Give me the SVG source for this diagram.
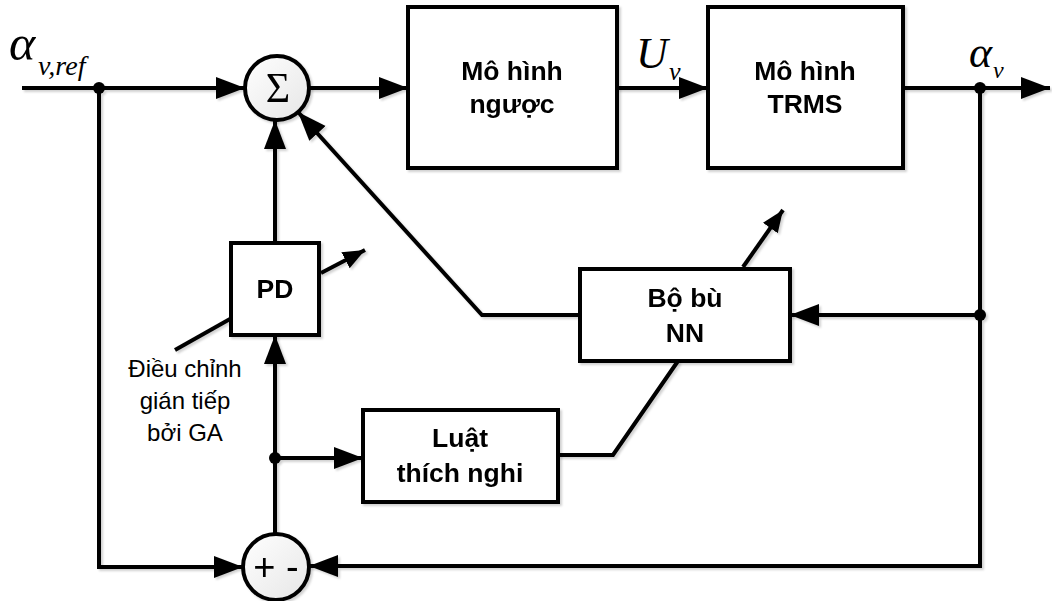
<svg xmlns="http://www.w3.org/2000/svg" width="1052" height="601" viewBox="0 0 1052 601">
  <style>
    .blk { fill: #ffffff; stroke: #000; stroke-width: 4; }
    .sum { fill: url(#sumFill); stroke: #000; stroke-width: 4; }
    .wire { fill: none; stroke: #000; stroke-width: 4; stroke-linejoin: miter; }
    .lbl { font-family: "Liberation Sans", Arial, sans-serif; font-weight: bold; font-size: 26.5px; text-anchor: middle; fill: #000; }
    .note { font-family: "Liberation Sans", Arial, sans-serif; font-size: 24px; text-anchor: middle; fill: #000; }
    .math { font-family: "Liberation Serif", "DejaVu Serif", serif; font-style: italic; fill: #000; }
    .dot { fill: #000; }
  </style>
  <defs>
    <linearGradient id="sumFill" x1="0" y1="0" x2="1" y2="1">
      <stop offset="0" stop-color="#ffffff"/>
      <stop offset="1" stop-color="#e6e6e6"/>
    </linearGradient>
    <filter id="shade" x="-10%" y="-10%" width="130%" height="130%">
      <feDropShadow dx="2" dy="2" stdDeviation="1" flood-color="#000" flood-opacity="0.18"/>
    </filter>
    <marker id="arr" markerUnits="userSpaceOnUse" markerWidth="30" markerHeight="24" refX="29" refY="11" orient="auto">
      <path d="M0,0 L29,11 L0,22 z" fill="#000"/>
    </marker>
    <marker id="arrS" markerUnits="userSpaceOnUse" markerWidth="24" markerHeight="20" refX="22" refY="9" orient="auto">
      <path d="M0,0 L22,9 L0,18 z" fill="#000"/>
    </marker>
  </defs>

  <!-- signal lines -->
  <g id="connectors" filter="url(#shade)">
    <path class="wire" d="M22,88 H245" marker-end="url(#arr)"/>
    <path class="wire" d="M309,88 H408" marker-end="url(#arr)"/>
    <path class="wire" d="M617,88 H708" marker-end="url(#arr)"/>
    <path class="wire" d="M903,88 H1050" marker-end="url(#arr)"/>
    <path class="wire" d="M980,88 V566 H309" marker-end="url(#arr)"/>
    <path class="wire" d="M980,315 H790" marker-end="url(#arr)"/>
    <path class="wire" d="M580,315 H482 L298,112" marker-end="url(#arr)"/>
    <path class="wire" d="M99,88 V567 H243" marker-end="url(#arr)"/>
    <path class="wire" d="M275,534 V335" marker-end="url(#arr)"/>
    <path class="wire" d="M275,243 V120" marker-end="url(#arr)"/>
    <path class="wire" d="M275,458 H363" marker-end="url(#arr)"/>
    <path class="wire" d="M558,455 H613 L678,361"/>
    <path class="wire" d="M743,267 L783,210" marker-end="url(#arrS)"/>
    <path class="wire" d="M321,273 L365,250" marker-end="url(#arrS)"/>
    <path class="wire" d="M230,319 L175,350"/>
    <circle class="dot" cx="99" cy="88" r="6"/>
    <circle class="dot" cx="980" cy="88" r="6"/>
    <circle class="dot" cx="980" cy="315" r="6"/>
    <circle class="dot" cx="275" cy="458" r="6"/>
  </g>

  <g id="sum-top" filter="url(#shade)">
    <circle class="sum" cx="277" cy="88" r="32"/>
    <text x="278" y="102" font-family="Liberation Serif, DejaVu Serif, serif" font-size="42" text-anchor="middle">Σ</text>
  </g>

  <g id="sum-bottom" filter="url(#shade)">
    <circle class="sum" cx="276" cy="567" r="33"/>
    <text x="276" y="580" font-family="Liberation Sans, Arial, sans-serif" font-size="38" text-anchor="middle">+ -</text>
  </g>

  <g id="inverse-model" filter="url(#shade)">
    <rect class="blk" x="408" y="7" width="209" height="161"/>
    <text class="lbl" x="512" y="80">Mô hình</text>
    <text class="lbl" x="512" y="113">ngược</text>
  </g>

  <g id="trms-model" filter="url(#shade)">
    <rect class="blk" x="708" y="7" width="195" height="161"/>
    <text class="lbl" x="805" y="80">Mô hình</text>
    <text class="lbl" x="805" y="113">TRMS</text>
  </g>

  <g id="pd" filter="url(#shade)">
    <rect class="blk" x="231" y="243" width="88" height="92"/>
    <text class="lbl" x="275" y="298">PD</text>
  </g>

  <g id="nn-compensator" filter="url(#shade)">
    <rect class="blk" x="580" y="269" width="210" height="92"/>
    <text class="lbl" x="685" y="307">Bộ bù</text>
    <text class="lbl" x="685" y="342">NN</text>
  </g>

  <g id="adaptive-law" filter="url(#shade)">
    <rect class="blk" x="363" y="410" width="195" height="92"/>
    <text class="lbl" x="460" y="447">Luật</text>
    <text class="lbl" x="460" y="482">thích nghi</text>
  </g>

  <g id="ga-note">
    <text class="note" x="185" y="377">Điều chỉnh</text>
    <text class="note" x="185" y="409">gián tiếp</text>
    <text class="note" x="185" y="441">bởi GA</text>
  </g>

  <g id="signal-labels">
    <text class="math" x="9" y="60" font-size="50">α</text>
    <text class="math" x="38" y="75" font-size="28">v,ref</text>
    <text class="math" x="636" y="68" font-size="44">U</text>
    <text class="math" x="669" y="80" font-size="26">v</text>
    <text class="math" x="969" y="67" font-size="44">α</text>
    <text class="math" x="993" y="78" font-size="24">v</text>
  </g>
</svg>
